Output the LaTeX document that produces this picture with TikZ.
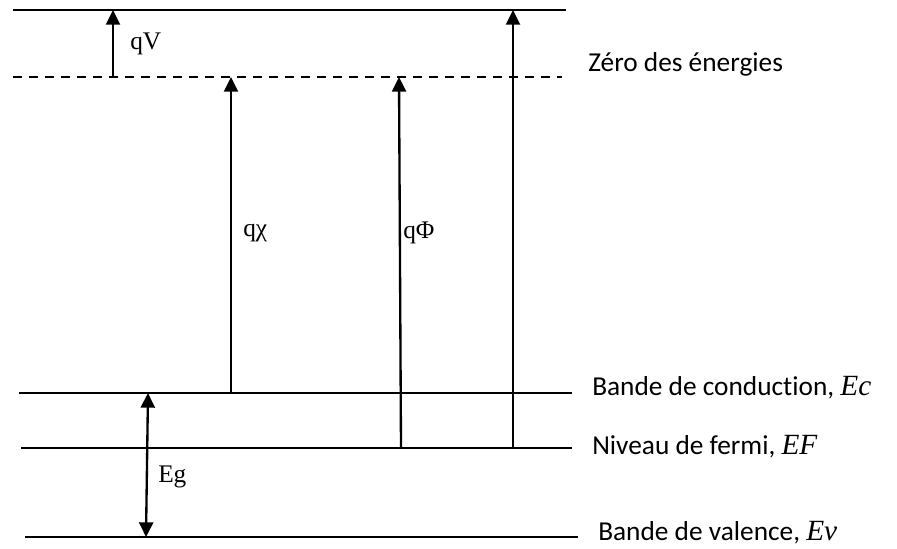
\documentclass[tikz,border=0pt]{standalone}
\usepackage{fontspec}
\setmainfont{Carlito}[Ligatures=NoCommon]
\newfontfamily\symfont{Liberation Serif}
\usetikzlibrary{arrows.meta}
\tikzset{
  level/.style={line width=2.2pt},
  vac/.style={line width=2.2pt, dash pattern=on 6.8pt off 5.2pt},
  upar/.style={line width=1.75pt, -{Triangle[length=11pt,width=10.5pt]}},
  dblar/.style={line width=1.75pt, {Triangle[length=11pt,width=10.5pt]}-{Triangle[length=11pt,width=10.5pt]}},
  lbl/.style={anchor=west, inner sep=0pt, font=\fontsize{20.5pt}{23pt}\selectfont},
  qlbl/.style={anchor=west, inner sep=0pt, font=\symfont\fontsize{19pt}{21pt}\selectfont},
}
\newcommand{\sym}[1]{{\symfont\itshape\fontsize{22pt}{23pt}\selectfont #1}}
\begin{document}
\begin{tikzpicture}[x=0.75pt,y=-0.75pt]
\useasboundingbox (0,0) rectangle (897,549);

% level end points
\coordinate (topL) at (13,10);   \coordinate (topR) at (566,10);
\coordinate (vacL) at (13,77);   \coordinate (vacR) at (562,77);
\coordinate (ecL)  at (19,393);  \coordinate (ecR)  at (572,393);
\coordinate (efL)  at (21,448);  \coordinate (efR)  at (572,448);
\coordinate (evL)  at (25,537);  \coordinate (evR)  at (578,537);

% energy levels
\draw[level] (topL) -- (topR);
\draw[vac]   (vacL) -- (vacR);
\draw[level] (ecL) -- (ecR);
\draw[level] (efL) -- (efR);
\draw[level] (evL) -- (evR);

% arrow end points
\coordinate (qvB) at (113,77);   \coordinate (qvT) at (113,10);
\coordinate (chiB) at (231,393); \coordinate (chiT) at (231,77);
\coordinate (phiB) at (401,448); \coordinate (phiT) at (399,77);
\coordinate (wB) at (513,448);   \coordinate (wT) at (513,10);
\coordinate (egT) at (148,393);  \coordinate (egB) at (146,537);

% energy differences
\draw[upar] (qvB) -- (qvT);
\draw[upar] (chiB) -- (chiT);
\draw[upar] (phiB) -- (phiT);
\draw[upar] (wB) -- (wT);
\draw[dblar] (egB) -- (egT);

% labels
\node[qlbl] (qV)   at (130,44)  {qV};
\node[qlbl] (qchi) at (243,233) {qχ};
\node[qlbl] (qphi) at (403,233) {qΦ};
\node[qlbl] (Eg)   at (158,477) {Eg};
\node[lbl] (zero) at (588,64)  {Zéro des énergies};
\node[lbl] (cond) at (592,388) {Bande de conduction, \sym{Ec}};
\node[lbl] (ferm) at (592,447) {Niveau de fermi, \sym{EF}};
\node[lbl] (val)  at (598,533) {Bande de valence, \sym{Ev}};
\end{tikzpicture}
\end{document}
